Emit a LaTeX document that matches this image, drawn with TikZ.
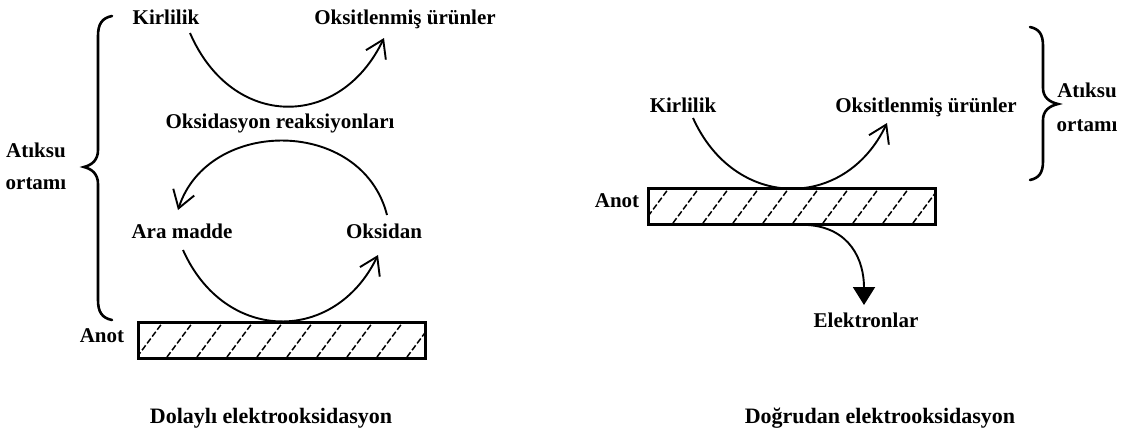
\documentclass[tikz,border=0pt]{standalone}
\usepackage{fontspec}
\setmainfont{Liberation Serif}
\usetikzlibrary{arrows.meta}
\tikzset{
  lbl/.style={font=\bfseries\fontsize{21}{25}\selectfont, anchor=base, inner sep=0pt},
  captext/.style={font=\bfseries\fontsize{22}{26}\selectfont, anchor=base, inner sep=0pt},
  arcline/.style={line width=1.9pt, -{Straight Barb[length=17pt,width=22pt]}},
  anode/.style={line width=1.8pt},
  hatch/.style={line width=1.5pt, dash pattern=on 6pt off 2.5pt},
  bracestyle/.style={line width=2.6pt, line cap=round},
  earrow/.style={line width=1.9pt, -{Triangle[length=18pt,width=22pt]}}
}
\begin{document}
\begin{tikzpicture}[x=1pt,y=-1pt]
\useasboundingbox (0,0) rectangle (1131,439);

% ---------- Left: indirect ----------
\node[lbl] (kL) at (166,24) {Kirlilik};
\node[lbl] (oL) at (405,24) {Oksitlenmiş ürünler};
\node[lbl] (reak) at (280,128) {Oksidasyon reaksiyonları};
\node[lbl] (ara) at (182,238) {Ara madde};
\node[lbl] (oks) at (384,238) {Oksidan};
\node[lbl] (anL) at (102,342) {Anot};
\node[lbl] (atL) at (36,157) {Atıksu};
\node[lbl] (orL) at (36,189) {ortamı};
\node[captext] (capL) at (271,423) {Dolaylı elektrooksidasyon};

\coordinate (a1s) at (190,33);
\coordinate (a1e) at (384,38);
\coordinate (a2s) at (387,215);
\coordinate (a2e) at (178,210);
\coordinate (a3s) at (183,250);
\coordinate (a3e) at (378,255);

\draw[arcline] (a1s) .. controls (232,130) and (340,130) .. (a1e);
\draw[arcline] (a2s) .. controls (362,117) and (208,117) .. (a2e);
\draw[arcline] (a3s) .. controls (225,344) and (335,344) .. (a3e);

\node[draw, anode, minimum width=286pt, minimum height=35pt, inner sep=0pt, anchor=north west] (rL) at (138,322) {};
\begin{scope}
  \clip (rL.north west) rectangle (rL.south east);
  \foreach \i in {-1,...,10}
    \draw[hatch] ({137+30*\i},357) -- ({163+30*\i},322);
\end{scope}
\draw[anode] (rL.north west) rectangle (rL.south east);

\draw[bracestyle] (112,16) .. controls (102,18) and (98,24) .. (98,36) -- (98,150)
  .. controls (98,160) and (92,165) .. (84,167)
  .. controls (92,169) and (98,174) .. (98,184) -- (98,300)
  .. controls (98,312) and (102,318) .. (112,320);

% ---------- Right: direct ----------
\node[lbl] (kR) at (683,112) {Kirlilik};
\node[lbl] (oR) at (926,112) {Oksitlenmiş ürünler};
\node[lbl] (anR) at (617,207) {Anot};
\node[lbl] (el) at (866,327) {Elektronlar};
\node[lbl] (atR) at (1087,97) {Atıksu};
\node[lbl] (orR) at (1087,131) {ortamı};
\node[captext] (capR) at (880,423) {Doğrudan elektrooksidasyon};

\coordinate (b1s) at (693,118);
\coordinate (b1e) at (887,123);
\draw[arcline] (b1s) .. controls (735,211) and (845,211) .. (b1e);

\node[draw, anode, minimum width=286pt, minimum height=35pt, inner sep=0pt, anchor=north west] (rR) at (648,188) {};
\begin{scope}
  \clip (rR.north west) rectangle (rR.south east);
  \foreach \i in {-1,...,10}
    \draw[hatch] ({643+30*\i},223) -- ({669+30*\i},188);
\end{scope}
\draw[anode] (rR.north west) rectangle (rR.south east);

\coordinate (es) at (808,225);
\coordinate (ee) at (864,305);
\draw[earrow] (es) .. controls (850,228) and (864,260) .. (ee);

\draw[bracestyle] (1030,27) .. controls (1039,29) and (1043,34) .. (1043,46) -- (1043,88)
  .. controls (1043,97) and (1049,102) .. (1058,104)
  .. controls (1049,106) and (1043,111) .. (1043,120) -- (1043,161)
  .. controls (1043,173) and (1039,178) .. (1030,180);
\end{tikzpicture}
\end{document}
